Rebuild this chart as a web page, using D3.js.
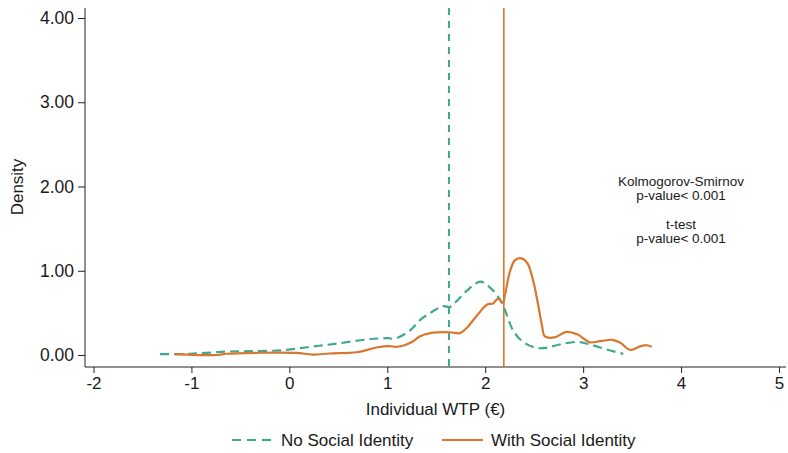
<!DOCTYPE html>
<html>
<head>
<meta charset="utf-8">
<script src="https://cdn.jsdelivr.net/npm/d3@7"></script>
<style>
  html, body { margin: 0; padding: 0; background: #fff; }
  svg { display: block; font-family: "Liberation Sans", Arial, Helvetica, sans-serif; }
</style>
</head>
<body>
<svg id="chart" width="788" height="453"></svg>
<script>
// Kernel density of individual WTP (€), without social identity
const noIdentityWTP = [-1.32, -1.10, -0.92, -0.64, -0.40, -0.07, 0.21, 0.49, 0.79, 1.00, 1.08, 1.23, 1.34, 1.44, 1.57, 1.64, 1.70, 1.81, 1.95, 2.05, 2.15, 2.22, 2.28, 2.38, 2.52, 2.62, 2.76, 2.94, 3.07, 3.24, 3.41];
const noIdentityDensity = [0.01, 0.01, 0.02, 0.04, 0.045, 0.057, 0.097, 0.136, 0.184, 0.20, 0.195, 0.29, 0.42, 0.50, 0.58, 0.57, 0.63, 0.76, 0.87, 0.80, 0.66, 0.48, 0.30, 0.16, 0.085, 0.085, 0.125, 0.155, 0.125, 0.065, 0.014];

// Kernel density of individual WTP (€), with social identity
const withIdentityWTP = [-1.17, -0.95, -0.74, -0.64, -0.34, 0.07, 0.24, 0.41, 0.69, 0.89, 1.03, 1.08, 1.16, 1.26, 1.33, 1.44, 1.64, 1.74, 1.81, 1.91, 2.02, 2.08, 2.13, 2.18, 2.20, 2.25, 2.30, 2.36, 2.43, 2.49, 2.54, 2.58, 2.61, 2.71, 2.83, 2.94, 3.07, 3.17, 3.24, 3.30, 3.38, 3.48, 3.59, 3.65, 3.70];
const withIdentityDensity = [0.01, 0.0, 0.0, 0.015, 0.026, 0.026, 0.005, 0.018, 0.033, 0.089, 0.105, 0.097, 0.11, 0.16, 0.22, 0.26, 0.27, 0.26, 0.32, 0.46, 0.60, 0.61, 0.67, 0.62, 0.70, 0.98, 1.12, 1.15, 1.09, 0.88, 0.60, 0.35, 0.22, 0.21, 0.275, 0.245, 0.15, 0.165, 0.175, 0.18, 0.145, 0.06, 0.105, 0.116, 0.097];

// Group means (vertical reference lines)
const meanNoIdentity = 1.63;
const meanWithIdentity = 2.19;

// Axis ticks and labels
const xTicks = [-2, -1, 0, 1, 2, 3, 4, 5];
const yTicks = [0, 1, 2, 3, 4];
const seriesNames = ["No Social Identity", "With Social Identity"];
const testLines = ["Kolmogorov-Smirnov", "p-value< 0.001", "t-test", "p-value< 0.001"];

const teal = "#3fa98e";
const orange = "#d9772e";
const ink = "#1a1a1a";

const svg = d3.select("#chart");

const x = d3.scaleLinear().domain([-2, 5]).range([93.5, 779]);
const y = d3.scaleLinear().domain([0, 4]).range([355, 18]);

const plotLeft = 85, plotRight = 786, plotTop = 8, plotBottom = 367;

// Axes (plain hyphen for negative tick labels)
const xAxis = d3.axisBottom(x).tickValues(xTicks).tickFormat(d => String(d)).tickSizeOuter(0).tickSize(6).tickPadding(4);
const yAxis = d3.axisLeft(y).tickValues(yTicks).tickFormat(d3.format(".2f")).tickSizeOuter(0).tickSize(7).tickPadding(4);

const gx = svg.append("g").attr("transform", `translate(0,${plotBottom})`).call(xAxis);
gx.select(".domain").remove();
gx.selectAll("text").attr("font-size", 17).attr("fill", ink).attr("font-family", "Liberation Sans, Arial, sans-serif");
gx.selectAll("line").attr("stroke", "#222");

const gy = svg.append("g").attr("transform", `translate(${plotLeft},0)`).call(yAxis);
gy.select(".domain").remove();
gy.selectAll("text").attr("font-size", 17.5).attr("fill", ink).attr("font-family", "Liberation Sans, Arial, sans-serif");
gy.selectAll("line").attr("stroke", "#222");

// Axis lines
svg.append("line").attr("x1", plotLeft).attr("x2", plotRight).attr("y1", plotBottom).attr("y2", plotBottom)
  .attr("stroke", "#222").attr("stroke-width", 1);
svg.append("line").attr("x1", plotLeft).attr("x2", plotLeft).attr("y1", plotTop).attr("y2", plotBottom)
  .attr("stroke", "#222").attr("stroke-width", 1);

// Axis titles
svg.append("text").attr("x", (plotLeft + plotRight) / 2).attr("y", 415)
  .attr("text-anchor", "middle").attr("font-size", 17).attr("fill", ink)
  .text("Individual WTP (€)");
svg.append("text").attr("transform", "translate(23,187) rotate(-90)")
  .attr("text-anchor", "middle").attr("font-size", 17).attr("fill", ink)
  .text("Density");

// Mean reference lines
svg.append("line").attr("x1", x(meanNoIdentity)).attr("x2", x(meanNoIdentity))
  .attr("y1", plotTop).attr("y2", plotBottom)
  .attr("stroke", teal).attr("stroke-width", 2).attr("stroke-dasharray", "7,6");
svg.append("line").attr("x1", x(meanWithIdentity)).attr("x2", x(meanWithIdentity))
  .attr("y1", plotTop).attr("y2", plotBottom)
  .attr("stroke", orange).attr("stroke-width", 1.6);

// Density curves
const line = d3.line().x(d => x(d[0])).y(d => y(d[1])).curve(d3.curveCatmullRom.alpha(0.5));

svg.append("path")
  .datum(d3.zip(noIdentityWTP, noIdentityDensity))
  .attr("d", line).attr("fill", "none")
  .attr("stroke", teal).attr("stroke-width", 2.2).attr("stroke-dasharray", "9,5");

svg.append("path")
  .datum(d3.zip(withIdentityWTP, withIdentityDensity))
  .attr("d", line).attr("fill", "none")
  .attr("stroke", orange).attr("stroke-width", 2.2);

// Test results annotation
const annY = [186, 200, 229, 243];
svg.append("g").selectAll("text").data(testLines).join("text")
  .attr("x", 681).attr("y", (d, i) => annY[i])
  .attr("text-anchor", "middle").attr("font-size", 13.5).attr("fill", ink)
  .text(d => d);

// Legend
const legend = svg.append("g");
legend.append("line").attr("x1", 232).attr("x2", 272).attr("y1", 440).attr("y2", 440)
  .attr("stroke", teal).attr("stroke-width", 2.2).attr("stroke-dasharray", "9,6");
legend.append("text").attr("x", 281).attr("y", 446).attr("font-size", 17).attr("fill", ink).text(seriesNames[0]);
legend.append("line").attr("x1", 442).attr("x2", 483).attr("y1", 440).attr("y2", 440)
  .attr("stroke", orange).attr("stroke-width", 2.2);
legend.append("text").attr("x", 491).attr("y", 446).attr("font-size", 17).attr("fill", ink).text(seriesNames[1]);
</script>
</body>
</html>
